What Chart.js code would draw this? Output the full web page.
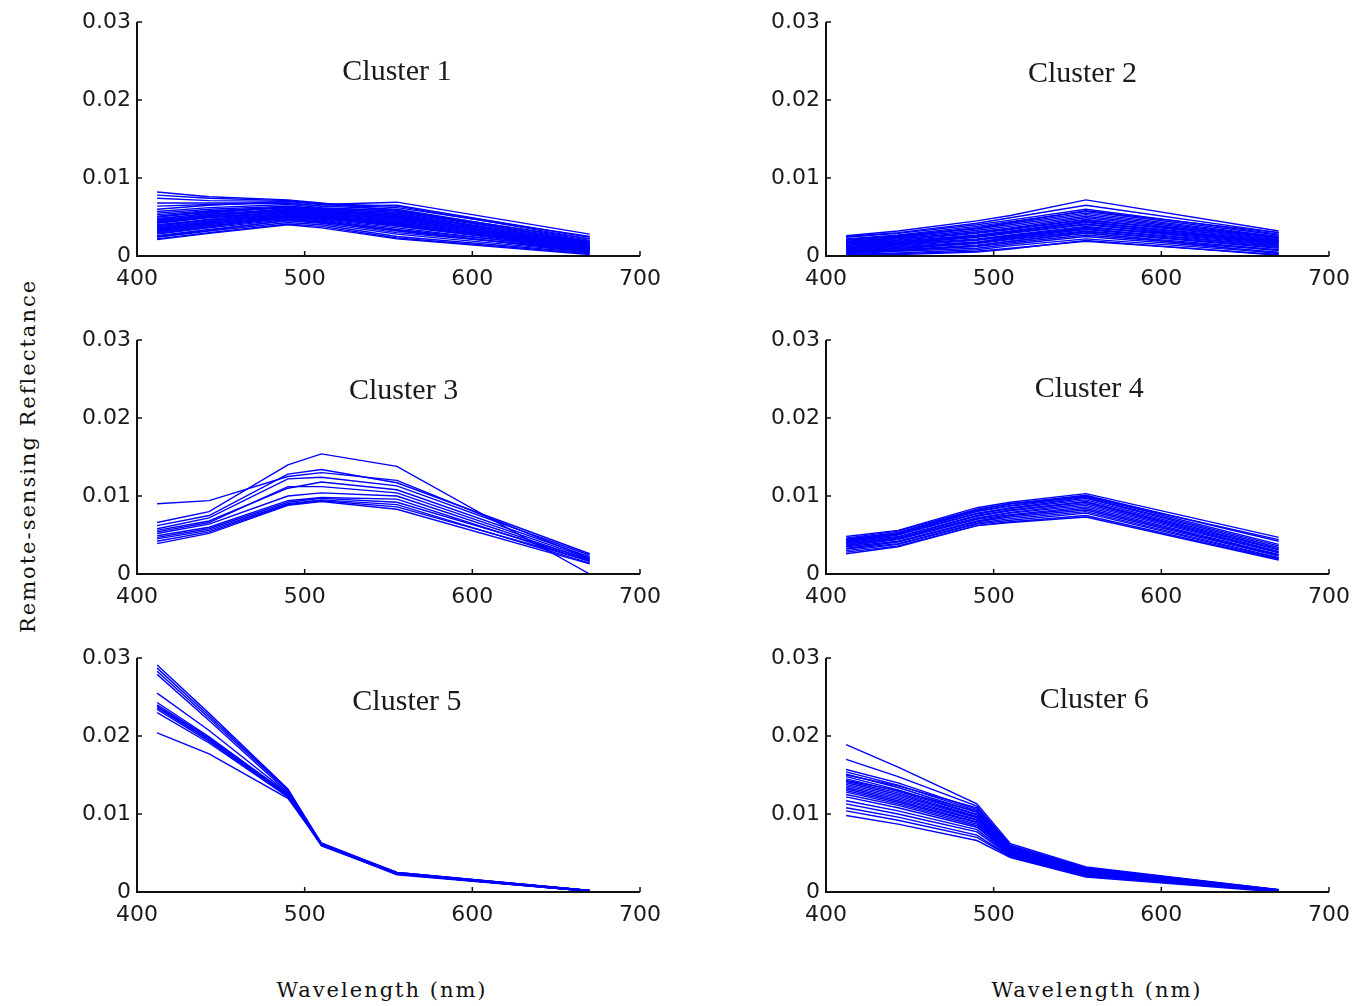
<!DOCTYPE html>
<html>
<head>
<meta charset="utf-8">
<title>Rrs clusters</title>
<script src="https://cdn.jsdelivr.net/npm/chart.js@4"></script>
<style>
  body { margin: 0; background: #fff; }
  #page { position: relative; width: 1355px; height: 1006px; overflow: hidden; }
  canvas { position: absolute; }
  .lbl { position: absolute; font-family: "DejaVu Serif", serif; font-size: 21px; color: #111;
         letter-spacing: 2px; white-space: nowrap; }
</style>
</head>
<body>
<div id="page">
  <canvas id="c1" width="608" height="299" style="left:57px;top:2px"></canvas>
  <canvas id="c2" width="608" height="299" style="left:746px;top:2px"></canvas>
  <canvas id="c3" width="608" height="299" style="left:57px;top:320px"></canvas>
  <canvas id="c4" width="608" height="299" style="left:746px;top:320px"></canvas>
  <canvas id="c5" width="608" height="299" style="left:57px;top:638px"></canvas>
  <canvas id="c6" width="608" height="299" style="left:746px;top:638px"></canvas>
  <div class="lbl" id="ylab" style="left:28px;top:456px;transform:translate(-50%,-50%) rotate(-90deg)">Remote-sensing Reflectance</div>
  <div class="lbl" style="left:382px;top:990px;transform:translate(-50%,-50%)">Wavelength (nm)</div>
  <div class="lbl" style="left:1097px;top:990px;transform:translate(-50%,-50%)">Wavelength (nm)</div>
</div>
<script>
// SeaWiFS bands (nm)
const WAVELENGTHS = [412, 443, 490, 510, 555, 670];
const X_TICKS = [400, 500, 600, 700];
const Y_TICKS = [0, 0.01, 0.02, 0.03];
const TITLES = ['Cluster 1', 'Cluster 2', 'Cluster 3', 'Cluster 4', 'Cluster 5', 'Cluster 6'];

// one row per spectrum, values at WAVELENGTHS
const CLUSTER_1 = [
  [0.0082, 0.0076, 0.0072, 0.0068, 0.0058, 0.0022],
  [0.0078, 0.0074, 0.0071, 0.0066, 0.0062, 0.0025],
  [0.0074, 0.0071, 0.0070, 0.0066, 0.0069, 0.0028],
  [0.0068, 0.0068, 0.0068, 0.0064, 0.0065, 0.0024],
  [0.0064, 0.0066, 0.0068, 0.0064, 0.0060, 0.0020],
  [0.0060, 0.0065, 0.0070, 0.0067, 0.0064, 0.0022],
  [0.0057, 0.0062, 0.0066, 0.0062, 0.0058, 0.0018],
  [0.0055, 0.0060, 0.0064, 0.0061, 0.0055, 0.0016],
  [0.0053, 0.0058, 0.0063, 0.0060, 0.0056, 0.0019],
  [0.0051, 0.0057, 0.0062, 0.0058, 0.0052, 0.0014],
  [0.0050, 0.0056, 0.0062, 0.0059, 0.0054, 0.0017],
  [0.0048, 0.0054, 0.0060, 0.0057, 0.0050, 0.0012],
  [0.0047, 0.0055, 0.0063, 0.0061, 0.0058, 0.0018],
  [0.0046, 0.0053, 0.0059, 0.0056, 0.0051, 0.0015],
  [0.0045, 0.0052, 0.0058, 0.0055, 0.0048, 0.0011],
  [0.0044, 0.0051, 0.0061, 0.0058, 0.0053, 0.0016],
  [0.0043, 0.0050, 0.0057, 0.0054, 0.0047, 0.0013],
  [0.0042, 0.0049, 0.0056, 0.0053, 0.0045, 0.0010],
  [0.0040, 0.0047, 0.0055, 0.0052, 0.0044, 0.0012],
  [0.0039, 0.0046, 0.0054, 0.0051, 0.0042, 0.0009],
  [0.0038, 0.0047, 0.0057, 0.0055, 0.0049, 0.0014],
  [0.0037, 0.0045, 0.0053, 0.0050, 0.0041, 0.0011],
  [0.0036, 0.0044, 0.0052, 0.0049, 0.0039, 0.0008],
  [0.0035, 0.0043, 0.0055, 0.0053, 0.0046, 0.0012],
  [0.0034, 0.0042, 0.0051, 0.0048, 0.0038, 0.0010],
  [0.0033, 0.0041, 0.0050, 0.0047, 0.0036, 0.0007],
  [0.0032, 0.0040, 0.0052, 0.0050, 0.0043, 0.0010],
  [0.0031, 0.0039, 0.0049, 0.0046, 0.0034, 0.0009],
  [0.0030, 0.0038, 0.0048, 0.0045, 0.0032, 0.0006],
  [0.0029, 0.0037, 0.0050, 0.0048, 0.0040, 0.0008],
  [0.0028, 0.0036, 0.0047, 0.0044, 0.0030, 0.0008],
  [0.0026, 0.0034, 0.0045, 0.0042, 0.0028, 0.0005],
  [0.0025, 0.0033, 0.0046, 0.0043, 0.0033, 0.0005],
  [0.0024, 0.0032, 0.0043, 0.0040, 0.0025, 0.0004],
  [0.0022, 0.0030, 0.0041, 0.0038, 0.0023, 0.0003],
  [0.0021, 0.0029, 0.0040, 0.0036, 0.0022, 0.0002]
];

const CLUSTER_2 = [
  [0.0026, 0.0032, 0.0045, 0.0052, 0.0072, 0.0032],
  [0.0025, 0.0030, 0.0042, 0.0049, 0.0065, 0.0030],
  [0.0024, 0.0029, 0.0040, 0.0046, 0.0060, 0.0028],
  [0.0022, 0.0027, 0.0038, 0.0044, 0.0057, 0.0027],
  [0.0021, 0.0026, 0.0036, 0.0042, 0.0055, 0.0025],
  [0.0020, 0.0025, 0.0035, 0.0040, 0.0053, 0.0024],
  [0.0019, 0.0023, 0.0033, 0.0038, 0.0051, 0.0023],
  [0.0018, 0.0024, 0.0036, 0.0043, 0.0058, 0.0030],
  [0.0018, 0.0022, 0.0031, 0.0036, 0.0049, 0.0022],
  [0.0017, 0.0021, 0.0030, 0.0035, 0.0047, 0.0021],
  [0.0016, 0.0020, 0.0029, 0.0034, 0.0046, 0.0020],
  [0.0015, 0.0019, 0.0027, 0.0032, 0.0044, 0.0019],
  [0.0014, 0.0018, 0.0026, 0.0031, 0.0043, 0.0018],
  [0.0013, 0.0017, 0.0025, 0.0030, 0.0041, 0.0017],
  [0.0012, 0.0016, 0.0024, 0.0029, 0.0040, 0.0016],
  [0.0011, 0.0015, 0.0022, 0.0027, 0.0038, 0.0015],
  [0.0010, 0.0015, 0.0025, 0.0031, 0.0045, 0.0025],
  [0.0010, 0.0014, 0.0021, 0.0026, 0.0037, 0.0014],
  [0.0009, 0.0013, 0.0020, 0.0025, 0.0035, 0.0013],
  [0.0008, 0.0012, 0.0018, 0.0023, 0.0034, 0.0012],
  [0.0007, 0.0011, 0.0017, 0.0022, 0.0032, 0.0011],
  [0.0006, 0.0010, 0.0016, 0.0021, 0.0031, 0.0010],
  [0.0005, 0.0009, 0.0017, 0.0024, 0.0036, 0.0020],
  [0.0005, 0.0008, 0.0014, 0.0019, 0.0029, 0.0008],
  [0.0004, 0.0007, 0.0012, 0.0017, 0.0027, 0.0007],
  [0.0003, 0.0007, 0.0013, 0.0019, 0.0030, 0.0003],
  [0.0003, 0.0006, 0.0010, 0.0015, 0.0025, 0.0005],
  [0.0002, 0.0004, 0.0008, 0.0013, 0.0022, 0.0004],
  [0.0001, 0.0003, 0.0006, 0.0010, 0.0019, 0.0002],
  [0.0000, 0.0002, 0.0005, 0.0009, 0.0020, 0.0001]
];

const CLUSTER_3 = [
  [0.0090, 0.0094, 0.0125, 0.0130, 0.0120, 0.0020],
  [0.0066, 0.0080, 0.0140, 0.0154, 0.0138, 0.0000],
  [0.0062, 0.0075, 0.0128, 0.0134, 0.0117, 0.0026],
  [0.0058, 0.0072, 0.0122, 0.0124, 0.0113, 0.0024],
  [0.0056, 0.0068, 0.0110, 0.0118, 0.0108, 0.0022],
  [0.0054, 0.0066, 0.0112, 0.0112, 0.0104, 0.0020],
  [0.0052, 0.0064, 0.0100, 0.0104, 0.0100, 0.0018],
  [0.0049, 0.0060, 0.0094, 0.0098, 0.0096, 0.0016],
  [0.0047, 0.0058, 0.0092, 0.0097, 0.0092, 0.0019],
  [0.0045, 0.0056, 0.0090, 0.0095, 0.0089, 0.0014],
  [0.0042, 0.0054, 0.0089, 0.0094, 0.0086, 0.0017],
  [0.0039, 0.0052, 0.0088, 0.0093, 0.0083, 0.0013]
];

const CLUSTER_4 = [
  [0.0048, 0.0056, 0.0085, 0.0092, 0.0103, 0.0047],
  [0.0046, 0.0055, 0.0083, 0.0090, 0.0101, 0.0042],
  [0.0045, 0.0053, 0.0081, 0.0088, 0.0100, 0.0038],
  [0.0044, 0.0053, 0.0082, 0.0090, 0.0099, 0.0044],
  [0.0043, 0.0052, 0.0080, 0.0087, 0.0098, 0.0036],
  [0.0042, 0.0051, 0.0078, 0.0085, 0.0097, 0.0034],
  [0.0041, 0.0050, 0.0077, 0.0084, 0.0095, 0.0032],
  [0.0040, 0.0048, 0.0075, 0.0082, 0.0093, 0.0031],
  [0.0039, 0.0047, 0.0074, 0.0081, 0.0092, 0.0029],
  [0.0038, 0.0046, 0.0072, 0.0079, 0.0090, 0.0028],
  [0.0037, 0.0045, 0.0071, 0.0078, 0.0088, 0.0027],
  [0.0036, 0.0044, 0.0070, 0.0076, 0.0086, 0.0025],
  [0.0035, 0.0042, 0.0068, 0.0075, 0.0084, 0.0024],
  [0.0033, 0.0041, 0.0067, 0.0073, 0.0082, 0.0023],
  [0.0032, 0.0039, 0.0065, 0.0071, 0.0080, 0.0021],
  [0.0030, 0.0038, 0.0064, 0.0069, 0.0078, 0.0020],
  [0.0028, 0.0036, 0.0062, 0.0067, 0.0075, 0.0019],
  [0.0026, 0.0035, 0.0062, 0.0066, 0.0073, 0.0018]
];

const CLUSTER_5 = [
  [0.0291, 0.0229, 0.0132, 0.0062, 0.0025, 0.0002],
  [0.0287, 0.0226, 0.0131, 0.0061, 0.0024, 0.0001],
  [0.0283, 0.0223, 0.0130, 0.0063, 0.0025, 0.0002],
  [0.0279, 0.0220, 0.0128, 0.0060, 0.0023, 0.0001],
  [0.0255, 0.0207, 0.0127, 0.0061, 0.0024, 0.0002],
  [0.0243, 0.0199, 0.0125, 0.0060, 0.0023, 0.0001],
  [0.0240, 0.0198, 0.0126, 0.0060, 0.0023, 0.0001],
  [0.0238, 0.0196, 0.0124, 0.0062, 0.0024, 0.0002],
  [0.0236, 0.0195, 0.0124, 0.0061, 0.0025, 0.0002],
  [0.0234, 0.0193, 0.0123, 0.0059, 0.0023, 0.0001],
  [0.0230, 0.0191, 0.0122, 0.0060, 0.0022, 0.0001],
  [0.0204, 0.0177, 0.0120, 0.0061, 0.0024, 0.0002]
];

const CLUSTER_6 = [
  [0.0189, 0.0160, 0.0113, 0.0062, 0.0032, 0.0003],
  [0.0170, 0.0148, 0.0110, 0.0060, 0.0031, 0.0002],
  [0.0157, 0.0140, 0.0106, 0.0058, 0.0030, 0.0003],
  [0.0154, 0.0137, 0.0104, 0.0057, 0.0029, 0.0002],
  [0.0151, 0.0134, 0.0102, 0.0056, 0.0029, 0.0002],
  [0.0150, 0.0136, 0.0108, 0.0059, 0.0031, 0.0003],
  [0.0148, 0.0131, 0.0100, 0.0055, 0.0028, 0.0002],
  [0.0145, 0.0129, 0.0099, 0.0055, 0.0028, 0.0001],
  [0.0143, 0.0130, 0.0103, 0.0057, 0.0030, 0.0002],
  [0.0142, 0.0127, 0.0097, 0.0054, 0.0027, 0.0002],
  [0.0140, 0.0125, 0.0096, 0.0053, 0.0027, 0.0001],
  [0.0138, 0.0123, 0.0095, 0.0053, 0.0026, 0.0002],
  [0.0136, 0.0121, 0.0093, 0.0052, 0.0026, 0.0001],
  [0.0134, 0.0119, 0.0092, 0.0051, 0.0025, 0.0002],
  [0.0132, 0.0117, 0.0090, 0.0050, 0.0025, 0.0001],
  [0.0130, 0.0115, 0.0089, 0.0050, 0.0024, 0.0001],
  [0.0128, 0.0113, 0.0087, 0.0049, 0.0024, 0.0002],
  [0.0125, 0.0111, 0.0085, 0.0048, 0.0023, 0.0001],
  [0.0122, 0.0108, 0.0083, 0.0048, 0.0023, 0.0001],
  [0.0117, 0.0104, 0.0080, 0.0047, 0.0022, 0.0001],
  [0.0113, 0.0100, 0.0077, 0.0046, 0.0021, 0.0001],
  [0.0108, 0.0096, 0.0073, 0.0045, 0.0021, 0.0001],
  [0.0104, 0.0092, 0.0070, 0.0045, 0.0020, 0.0001],
  [0.0098, 0.0087, 0.0066, 0.0044, 0.0019, 0.0000]
];

const CLUSTERS = [CLUSTER_1, CLUSTER_2, CLUSTER_3, CLUSTER_4, CLUSTER_5, CLUSTER_6];
// where each "Cluster N" caption sits, in data units
const TITLE_POS = [[555, 0.0236], [553, 0.0233], [559, 0.0234], [557, 0.0237], [561, 0.0243], [560, 0.0246]];

const tickFont = { family: 'DejaVu Sans', size: 22 };

// MATLAB-style box-off axes: left + bottom lines, ticks pointing inward, caption inside
const axesPlugin = {
  id: 'matlabAxes',
  afterDatasetsDraw(chart, args, opts) {
    const { ctx, chartArea: a, scales: { x, y } } = chart;
    ctx.save();
    ctx.strokeStyle = '#111';
    ctx.lineWidth = 2;
    ctx.beginPath();
    ctx.moveTo(a.left, a.top);
    ctx.lineTo(a.left, a.bottom);
    ctx.lineTo(a.right, a.bottom);
    ctx.stroke();

    ctx.lineWidth = 1.5;
    ctx.beginPath();
    Y_TICKS.forEach(v => {
      const py = y.getPixelForValue(v);
      ctx.moveTo(a.left, py);
      ctx.lineTo(a.left + 5, py);
    });
    X_TICKS.forEach(v => {
      const px = x.getPixelForValue(v);
      ctx.moveTo(px, a.bottom);
      ctx.lineTo(px, a.bottom - 5);
    });
    ctx.stroke();

    ctx.fillStyle = '#1a1a1a';
    ctx.font = '30px "Liberation Serif"';
    ctx.textAlign = 'center';
    ctx.textBaseline = 'middle';
    ctx.fillText(opts.title, x.getPixelForValue(opts.pos[0]), y.getPixelForValue(opts.pos[1]));
    ctx.restore();
  }
};

function makePanel(idx) {
  const datasets = CLUSTERS[idx].map(row => ({
    data: row.map((v, i) => ({ x: WAVELENGTHS[i], y: v })),
    borderColor: '#0000ff',
    borderWidth: 1.4,
    pointRadius: 0,
    fill: false,
    tension: 0
  }));

  new Chart(document.getElementById('c' + (idx + 1)), {
    type: 'line',
    data: { datasets },
    plugins: [axesPlugin],
    options: {
      responsive: false,
      animation: false,
      layout: { padding: { top: 20, right: 25, left: 0, bottom: 0 } },
      plugins: {
        legend: { display: false },
        tooltip: { enabled: false },
        matlabAxes: { title: TITLES[idx], pos: TITLE_POS[idx] }
      },
      scales: {
        x: {
          type: 'linear',
          min: 400, max: 700,
          grid: { display: false, drawTicks: false },
          border: { display: false },
          afterBuildTicks: s => { s.ticks = X_TICKS.map(v => ({ value: v })); },
          // fixed plot box: no extra room for the end labels
          afterFit: s => { s.height = 45; s.paddingLeft = 0; s.paddingRight = 0; },
          ticks: { font: tickFont, color: '#1a1a1a', padding: 10, maxRotation: 0 }
        },
        y: {
          min: 0, max: 0.03,
          grid: { display: false, drawTicks: false },
          border: { display: false },
          afterBuildTicks: s => { s.ticks = Y_TICKS.map(v => ({ value: v })); },
          afterFit: s => { s.width = 80; s.paddingTop = 0; s.paddingBottom = 0; },
          ticks: { font: tickFont, color: '#1a1a1a', padding: 6, callback: v => String(+v.toFixed(2)) }
        }
      }
    }
  });
}

for (let i = 0; i < 6; i++) makePanel(i);
</script>
</body>
</html>
